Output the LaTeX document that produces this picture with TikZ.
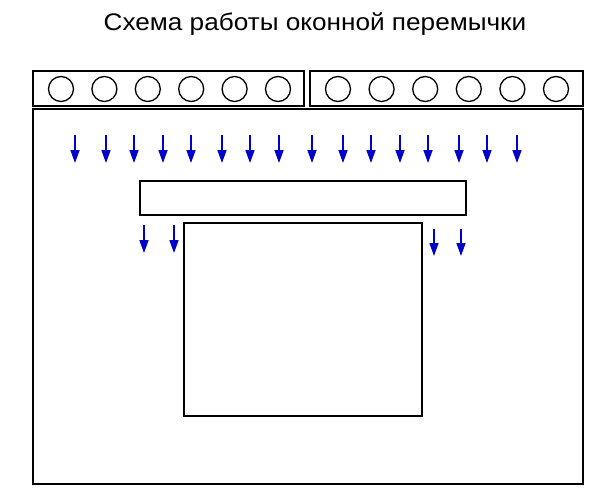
\documentclass[tikz,border=0pt]{standalone}
\usepackage{fontspec}
\setmainfont{Liberation Sans}
\usetikzlibrary{arrows.meta}
\definecolor{loadblue}{RGB}{0,0,205}
\begin{document}
\begin{tikzpicture}[x = 1pt, y = -1pt,
        load/.style = {draw = loadblue, line width = 1.6pt,
            -{Triangle[width = 9pt, length = 13pt]}},
        wall/.style = {draw, line width = 1.6pt}]
    \useasboundingbox (0, 0) rectangle (606, 496);
    \node [anchor = base] (title) at (315, 30)
        {\scalebox{1.09}[1]{\fontsize{24}{28}\selectfont Схема работы оконной перемычки}};

    % slabs with hollow cores
    \draw [wall]
        (33, 71) rectangle (304, 106)
        (310, 71) rectangle (583, 106);
    \draw [line width = 1.3pt]
        \foreach\i in {0, ..., 5} {
            (61 + 43.4*\i, 89) circle [radius = 12.5pt]
            (338 + 43.6*\i, 89) circle [radius = 12.5pt]
        };

    % wall, lintel, window
    \draw [wall]
        (33, 109) rectangle (583, 484)
        (184, 223) rectangle (422, 416);
    \draw [line width = 2.2pt] (140, 181) rectangle (466, 215);

    % loads
    \foreach\x in {75, 106, 134, 163, 191, 222, 250, 279,
                   312, 343, 371, 400, 428, 459, 487, 517} {
        \draw [load] (\x, 135) -- (\x, 163);
    }
    \foreach\x in {144, 174} {
        \draw [load] (\x, 225) -- (\x, 253);
    }
    \foreach\x in {434, 461} {
        \draw [load] (\x, 229) -- (\x, 256);
    }
\end{tikzpicture}
\end{document}
